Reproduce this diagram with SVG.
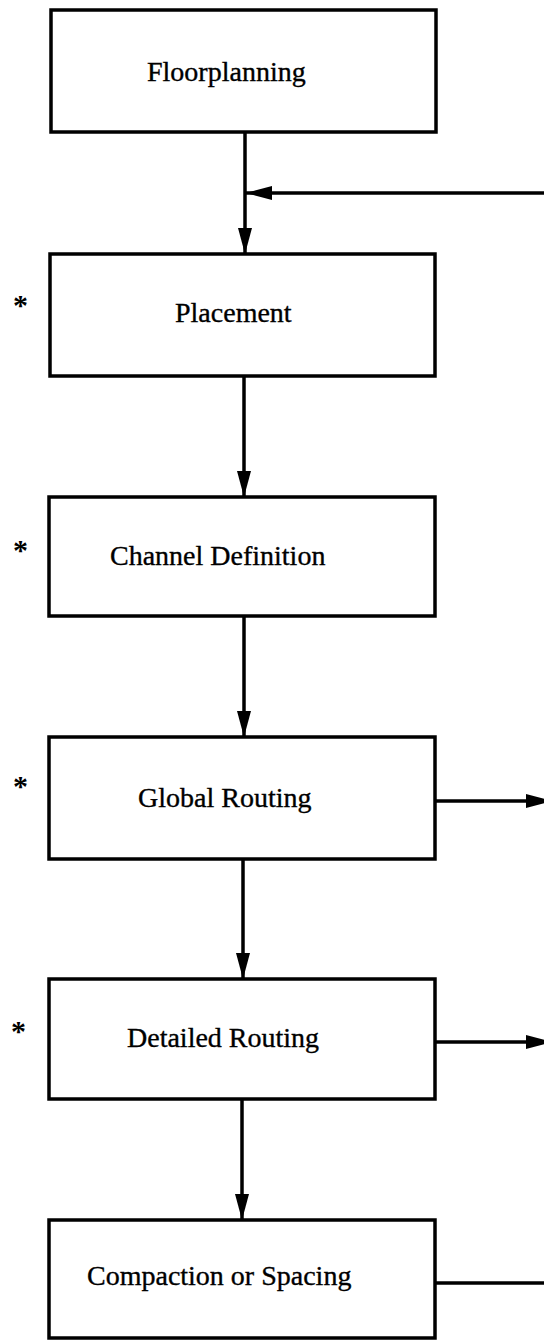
<svg xmlns="http://www.w3.org/2000/svg" width="544" height="1341" viewBox="0 0 544 1341">
  <style>
    .box { fill: #ffffff; stroke: #000000; stroke-width: 3.5; }
    .label { font-family: "Liberation Serif", "Times New Roman", serif; font-size: 28px; fill: #000000; stroke: #000000; stroke-width: 0.35; }
    .star { font-family: "Liberation Serif", "Times New Roman", serif; font-size: 30px; font-weight: bold; fill: #000000; }
    .wire { fill: none; stroke: #000000; stroke-width: 3.5; }
  </style>
  <defs>
    <marker id="head" markerUnits="userSpaceOnUse" markerWidth="28" markerHeight="16" refX="26" refY="7" orient="auto">
      <path d="M0,0 L26,7 L0,14 z" fill="#000000"/>
    </marker>
  </defs>
  <rect width="544" height="1341" fill="#ffffff"/>

  <g id="connectors">
    <!-- main flow -->
    <line class="wire" x1="245" y1="132" x2="245" y2="254" marker-end="url(#head)"/>
    <line class="wire" x1="244" y1="376" x2="244" y2="497" marker-end="url(#head)"/>
    <line class="wire" x1="244" y1="616" x2="244" y2="737" marker-end="url(#head)"/>
    <line class="wire" x1="243" y1="859" x2="243" y2="979" marker-end="url(#head)"/>
    <line class="wire" x1="242" y1="1099" x2="242" y2="1220" marker-end="url(#head)"/>
    <!-- feedback entering above placement -->
    <line class="wire" x1="544" y1="193" x2="246" y2="193" marker-end="url(#head)"/>
    <!-- outgoing branches on the right -->
    <line class="wire" x1="435" y1="801" x2="552" y2="801" marker-end="url(#head)"/>
    <line class="wire" x1="435" y1="1042" x2="552" y2="1042" marker-end="url(#head)"/>
    <line class="wire" x1="435" y1="1283" x2="544" y2="1283"/>
  </g>

  <g id="floorplanning">
    <rect class="box" x="51" y="10" width="385" height="122"/>
    <text class="label" x="147" y="81">Floorplanning</text>
  </g>

  <g id="placement">
    <rect class="box" x="50" y="254" width="385" height="122"/>
    <text class="label" x="175" y="322">Placement</text>
    <text class="star" x="13" y="315">*</text>
  </g>

  <g id="channel-definition">
    <rect class="box" x="49" y="497" width="386" height="119"/>
    <text class="label" x="110" y="565">Channel Definition</text>
    <text class="star" x="13" y="560">*</text>
  </g>

  <g id="global-routing">
    <rect class="box" x="49" y="737" width="386" height="122"/>
    <text class="label" x="138" y="807">Global Routing</text>
    <text class="star" x="13" y="796">*</text>
  </g>

  <g id="detailed-routing">
    <rect class="box" x="49" y="979" width="386" height="120"/>
    <text class="label" x="127" y="1047">Detailed Routing</text>
    <text class="star" x="11" y="1041">*</text>
  </g>

  <g id="compaction">
    <rect class="box" x="49" y="1220" width="386" height="118"/>
    <text class="label" x="87" y="1285">Compaction or Spacing</text>
  </g>
</svg>
